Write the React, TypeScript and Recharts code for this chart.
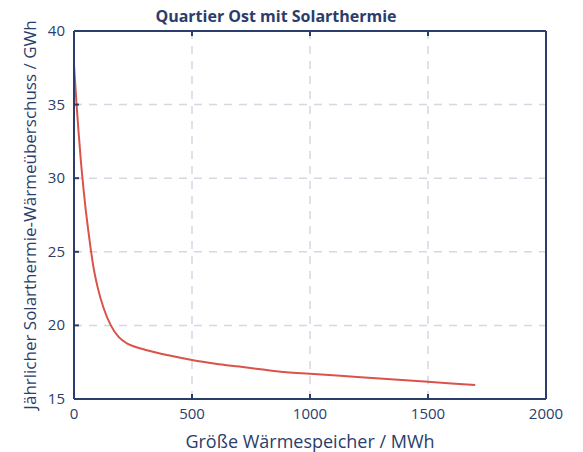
import React from "react";
import {
  LineChart,
  Line,
  XAxis,
  YAxis,
  CartesianGrid,
  Label,
} from "recharts";

// Speichergröße in MWh
const storageSize = [
  0, 10, 20, 30, 40, 50, 60, 70, 80, 100, 125, 156, 190, 222, 258, 300, 400,
  500, 600, 700, 800, 900, 1000, 1200, 1500, 1700,
];
// Jährlicher Wärmeüberschuss in GWh
const surplus = [
  37.7, 35.2, 33.0, 31.0, 29.3, 27.8, 26.5, 25.3, 24.2, 22.6, 21.2, 20.0, 19.2,
  18.8, 18.55, 18.35, 17.97, 17.65, 17.4, 17.2, 17.0, 16.82, 16.72, 16.5,
  16.17, 15.95,
];
const xTicks = [0, 500, 1000, 1500, 2000];
const yTicks = [15, 20, 25, 30, 35, 40];

const data = storageSize.map((x, i) => ({ x, y: surplus[i] }));

const navy = "#2b3d6b";
const font = "'Open Sans', sans-serif";

// ticks pointing into the plot, label outside
const BottomTick = ({ x, y, payload }: any) => (
  <g>
    <line x1={x} x2={x} y1={y} y2={y - 5} stroke={navy} strokeWidth={2} />
    <text x={x} y={y + 20} textAnchor="middle" fill={navy} fontSize={15}>
      {payload.value}
    </text>
  </g>
);

const TopTick = ({ x, y }: any) => (
  <line x1={x} x2={x} y1={y} y2={y + 5} stroke={navy} strokeWidth={2} />
);

const LeftTick = ({ x, y, payload }: any) => (
  <g>
    <line x1={x} x2={x + 5} y1={y} y2={y} stroke={navy} strokeWidth={2} />
    <text x={x - 9} y={y + 5} textAnchor="end" fill={navy} fontSize={15}>
      {payload.value}
    </text>
  </g>
);

const RightTick = ({ x, y }: any) => (
  <line x1={x} x2={x - 5} y1={y} y2={y} stroke={navy} strokeWidth={2} />
);

const App = () => {
  return (
    <div style={{ position: "absolute", left: 0, top: 0 }}>
      <LineChart
        width={583}
        height={452}
        data={data}
        margin={{ top: 30, right: 36, bottom: 0, left: 0 }}
        style={{ fontFamily: font }}
      >
        <CartesianGrid
          xAxisId="bottom"
          yAxisId="left"
          stroke="#d3d8e2"
          strokeWidth={1.5}
          strokeDasharray="8 7"
          horizontalValues={[20, 25, 30, 35]}
          verticalValues={[500, 1000, 1500]}
        />
        <XAxis
          xAxisId="bottom"
          dataKey="x"
          type="number"
          domain={[0, 2000]}
          ticks={xTicks}
          height={53}
          stroke={navy}
          strokeWidth={2}
          tickLine={false}
          tickSize={0}
          tickMargin={0}
          tick={<BottomTick />}
          interval={0}
        >
          <Label
            value="Größe Wärmespeicher / MWh"
            position="insideBottom"
            offset={4}
            fill={navy}
            fontSize={18}
          />
        </XAxis>
        <XAxis
          xAxisId="top"
          orientation="top"
          dataKey="x"
          type="number"
          domain={[0, 2000]}
          ticks={xTicks}
          height={1}
          stroke={navy}
          strokeWidth={2}
          tickLine={false}
          tickSize={0}
          tickMargin={0}
          tick={<TopTick />}
          interval={0}
        >
          <Label
            value="Quartier Ost mit Solarthermie"
            position="top"
            offset={8}
            dx={-34}
            fill={navy}
            fontSize={16}
            fontWeight="bold"
          />
        </XAxis>
        <YAxis
          yAxisId="left"
          type="number"
          domain={[15, 40]}
          ticks={yTicks}
          width={74}
          stroke={navy}
          strokeWidth={2}
          tickLine={false}
          tickSize={0}
          tickMargin={0}
          tick={<LeftTick />}
          interval={0}
        >
          <Label
            value="Jährlicher Solarthermie-Wärmeüberschuss / GWh"
            angle={-90}
            position="insideLeft"
            offset={30}
            style={{ textAnchor: "middle" }}
            fill={navy}
            fontSize={17}
          />
        </YAxis>
        <YAxis
          yAxisId="right"
          orientation="right"
          type="number"
          domain={[15, 40]}
          ticks={yTicks}
          width={1}
          stroke={navy}
          strokeWidth={2}
          tickLine={false}
          tickSize={0}
          tickMargin={0}
          tick={<RightTick />}
          interval={0}
        />
        <Line
          xAxisId="bottom"
          yAxisId="left"
          type="monotone"
          dataKey="y"
          stroke="#d9534a"
          strokeWidth={2}
          dot={false}
          isAnimationActive={false}
        />
      </LineChart>
    </div>
  );
};

export default App;
